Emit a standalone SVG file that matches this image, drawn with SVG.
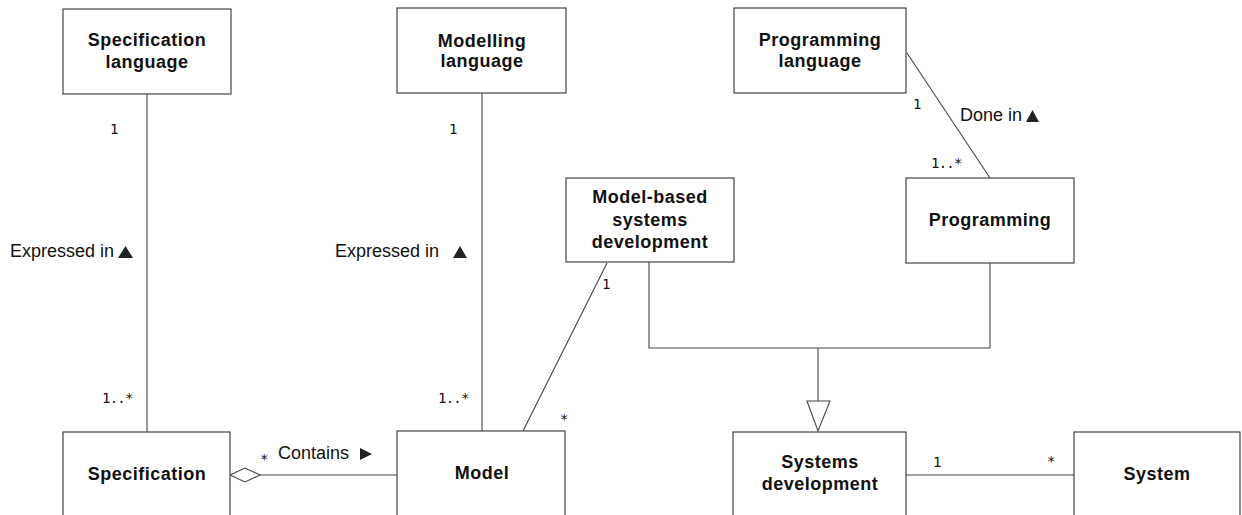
<svg xmlns="http://www.w3.org/2000/svg" width="1242" height="515" viewBox="0 0 1242 515">
<style>
.box{fill:#fff;stroke:#444;stroke-width:1.2}
.name{font-family:"Liberation Sans",Arial,sans-serif;font-weight:bold;font-size:18px;letter-spacing:0.5px;fill:#111;text-anchor:middle}
.lbl{font-family:"Liberation Sans",Arial,sans-serif;font-size:18px;fill:#111}
.mult{font-family:"DejaVu Sans Mono",monospace;font-size:14px;letter-spacing:-0.8px;fill:#111}
.ln{fill:none;stroke:#444;stroke-width:1.1}
.tri{fill:#222}
</style>
<rect width="1242" height="515" fill="#fff"/>
<g id="connectors">
  <line class="ln" x1="147" y1="94" x2="147" y2="432"/>
  <line class="ln" x1="482" y1="93" x2="482" y2="431"/>
  <line class="ln" x1="907" y1="53" x2="990" y2="178"/>
  <line class="ln" x1="607" y1="263" x2="523" y2="431"/>
  <line class="ln" x1="260" y1="475" x2="397" y2="475"/>
  <polygon class="ln" points="230,475 245,468 260,475 245,482" fill="#fff"/>
  <polyline class="ln" points="649,262 649,348 990,348 990,263"/>
  <line class="ln" x1="818" y1="348" x2="818" y2="401"/>
  <polygon class="ln" points="807,401 830,401 818,431" fill="#fff"/>
  <line class="ln" x1="906" y1="475" x2="1074" y2="475"/>
  <text class="mult" x="110" y="134">1</text>
  <text class="mult" x="102" y="403">1..*</text>
  <text class="lbl" x="10" y="257">Expressed in</text>
  <polygon class="tri" points="118,258 133,258 125.5,246"/>
  <text class="mult" x="449" y="134">1</text>
  <text class="mult" x="438" y="403">1..*</text>
  <text class="lbl" x="335" y="257">Expressed in</text>
  <polygon class="tri" points="453,258 467,258 460,246"/>
  <text class="mult" x="602" y="289">1</text>
  <text class="mult" x="560" y="424">*</text>
  <text class="mult" x="913" y="109">1</text>
  <text class="mult" x="931" y="168">1..*</text>
  <text class="lbl" x="960" y="121">Done in</text>
  <polygon class="tri" points="1026,122 1039,122 1032.5,110"/>
  <text class="mult" x="260" y="464">*</text>
  <text class="lbl" x="278" y="459">Contains</text>
  <polygon class="tri" points="360,448 360,460 372,454"/>
  <text class="mult" x="933" y="467">1</text>
  <text class="mult" x="1047" y="466">*</text>
</g>
<g id="spec-language">
  <rect class="box" x="63" y="9" width="168" height="85"/>
  <text class="name" x="147" y="46">Specification</text>
  <text class="name" x="147" y="68">language</text>
</g>
<g id="modelling-language">
  <rect class="box" x="397" y="8" width="169" height="85"/>
  <text class="name" x="482" y="47">Modelling</text>
  <text class="name" x="482" y="67">language</text>
</g>
<g id="programming-language">
  <rect class="box" x="734" y="8" width="172" height="85"/>
  <text class="name" x="820" y="46">Programming</text>
  <text class="name" x="820" y="67">language</text>
</g>
<g id="mbsd">
  <rect class="box" x="566" y="178" width="168" height="84"/>
  <text class="name" x="650" y="203">Model-based</text>
  <text class="name" x="650" y="226">systems</text>
  <text class="name" x="650" y="248">development</text>
</g>
<g id="programming">
  <rect class="box" x="906" y="178" width="168" height="85"/>
  <text class="name" x="990" y="226">Programming</text>
</g>
<g id="specification">
  <rect class="box" x="63" y="432" width="167" height="95"/>
  <text class="name" x="147" y="480">Specification</text>
</g>
<g id="model">
  <rect class="box" x="397" y="431" width="168" height="95"/>
  <text class="name" x="482" y="479">Model</text>
</g>
<g id="systems-development">
  <rect class="box" x="733" y="432" width="173" height="95"/>
  <text class="name" x="820" y="468">Systems</text>
  <text class="name" x="820" y="490">development</text>
</g>
<g id="system">
  <rect class="box" x="1074" y="432" width="166" height="95"/>
  <text class="name" x="1157" y="480">System</text>
</g>
</svg>
